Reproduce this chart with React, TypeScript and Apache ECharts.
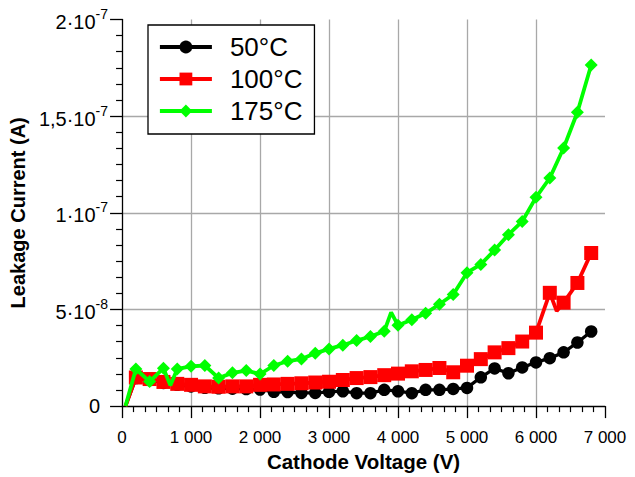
import React, { useEffect, useRef } from 'react';
import * as echarts from 'echarts';

// Cathode voltage (V) of each measurement
const volts50 = [50, 200, 400, 600, 800, 1000, 1200, 1400, 1600, 1800, 2000, 2200, 2400, 2600, 2800, 3000, 3200, 3400, 3600, 3800, 4000, 4200, 4400, 4600, 4800, 5000, 5200, 5400, 5600, 5800, 6000, 6200, 6400, 6600, 6800];
const volts100 = [50, 200, 400, 600, 800, 1000, 1200, 1400, 1600, 1800, 2000, 2200, 2400, 2600, 2800, 3000, 3200, 3400, 3600, 3800, 4000, 4200, 4400, 4600, 4800, 5000, 5200, 5400, 5600, 5800, 6000, 6200, 6300, 6400, 6600, 6800];
const volts175 = [50, 200, 400, 600, 700, 800, 1000, 1200, 1400, 1600, 1800, 2000, 2200, 2400, 2600, 2800, 3000, 3200, 3400, 3600, 3800, 3900, 4000, 4200, 4400, 4600, 4800, 5000, 5200, 5400, 5600, 5800, 6000, 6200, 6400, 6600, 6800];

// Leakage current in units of 1e-8 A
const current50 = [0, 1.45, 1.35, 1.2, 1.1, 1.02, 0.95, 0.92, 0.9, 0.88, 0.86, 0.74, 0.73, 0.68, 0.68, 0.74, 0.77, 0.67, 0.67, 0.84, 0.77, 0.67, 0.84, 0.84, 0.89, 0.94, 1.49, 1.95, 1.7, 2.0, 2.26, 2.48, 2.78, 3.29, 3.86];
const current100 = [0, 1.48, 1.4, 1.25, 1.15, 1.1, 1.02, 1.0, 1.02, 1.02, 1.1, 1.12, 1.15, 1.18, 1.22, 1.26, 1.35, 1.45, 1.5, 1.6, 1.68, 1.8, 1.87, 1.97, 1.75, 2.09, 2.43, 2.78, 3.0, 3.34, 3.8, 5.86, 4.92, 5.35, 6.37, 7.92];
const current175 = [0, 1.92, 1.27, 1.96, 1.07, 1.92, 2.06, 2.1, 1.45, 1.72, 1.84, 1.66, 2.1, 2.32, 2.44, 2.73, 2.96, 3.15, 3.39, 3.6, 3.87, 4.85, 4.18, 4.47, 4.8, 5.27, 5.77, 6.9, 7.33, 8.07, 8.87, 9.55, 10.8, 11.8, 13.35, 15.2, 17.65];

// Voltages drawn without a marker
const unmarked50 = [50];
const unmarked100 = [50, 6300];
const unmarked175 = [50, 700, 3900];

const seriesNames = ['50°C', '100°C', '175°C'];
const seriesColors = ['#000000', '#ff0000', '#00ff00'];
const seriesSymbols = ['circle', 'rect', 'diamond'];

// y tick labels: [mantissa, exponent]
const yTickLabels: [string, string][] = [['0', ''], ['5', '-8'], ['1', '-7'], ['1,5', '-7'], ['2', '-7']];
const xTickLabels = ['0', '1 000', '2 000', '3 000', '4 000', '5 000', '6 000', '7 000'];

const FONT = 'Liberation Sans';

function build(volts: number[], cur: number[], unmarked: number[]) {
  return volts.map((v, i) => {
    const item: any = { value: [v, cur[i] * 1e-8] };
    if (unmarked.includes(v)) item.symbol = 'none';
    return item;
  });
}

export default function App() {
  const ref = useRef<HTMLDivElement>(null);
  useEffect(() => {
    if (!ref.current) return;
    const chart = echarts.init(ref.current, undefined, { renderer: 'svg' });
    const datasets = [
      build(volts50, current50, unmarked50),
      build(volts100, current100, unmarked100),
      build(volts175, current175, unmarked175),
    ];
    const sizes = [12.5, 14, 13];
    const widths = [3.3, 3.8, 3.8];
    chart.setOption({
      animation: false,
      backgroundColor: '#ffffff',
      grid: { left: 121, top: 19.5, width: 484, height: 389.5, containLabel: false },
      legend: {
        orient: 'vertical',
        left: 148,
        top: 25,
        padding: [9, 12, 10, 10],
        itemGap: 6,
        itemWidth: 52,
        itemHeight: 16,
        borderColor: '#000',
        borderWidth: 1.3,
        borderRadius: 0,
        backgroundColor: '#ffffff',
        lineStyle: { width: 3.8 },
        textStyle: { fontSize: 26, fontFamily: FONT, color: '#000', padding: [0, 0, 0, 13], lineHeight: 26 },
        data: seriesNames,
      },
      xAxis: {
        type: 'value',
        min: 0,
        max: 7000,
        interval: 1000,
        name: 'Cathode Voltage (V)',
        nameLocation: 'middle',
        nameGap: 41,
        nameTextStyle: { fontSize: 20.5, fontWeight: 'bold', fontFamily: FONT, color: '#000' },
        axisLine: { show: true, onZero: false, lineStyle: { color: '#000', width: 1.3 } },
        axisTick: { show: true, length: 12, lineStyle: { color: '#000', width: 1.3 } },
        minorTick: { show: true, splitNumber: 6, length: 6, lineStyle: { color: '#000', width: 1.2 } },
        axisLabel: {
          margin: 23,
          fontSize: 17,
          fontFamily: FONT,
          color: '#000',
          showMaxLabel: true,
          showMinLabel: true,
          formatter: (v: number) => xTickLabels[Math.round(v / 1000)] ?? '',
        },
        splitLine: { show: true, showMinLine: false, showMaxLine: false, lineStyle: { color: '#a8a8a8', width: 1.3 } },
      },
      yAxis: {
        type: 'value',
        min: 0,
        max: 2e-7,
        interval: 5e-8,
        name: 'Leakage Current (A)',
        nameLocation: 'middle',
        nameGap: 86,
        nameTextStyle: { fontSize: 20, fontWeight: 'bold', fontFamily: FONT, color: '#000' },
        axisLine: { show: true, onZero: false, lineStyle: { color: '#000', width: 1.3 } },
        axisTick: { show: true, length: 12, lineStyle: { color: '#000', width: 1.3 } },
        minorTick: { show: true, splitNumber: 6, length: 6, lineStyle: { color: '#000', width: 1.2 } },
        axisLabel: {
          margin: 14,
          color: '#000',
          fontFamily: FONT,
          formatter: (v: number) => {
            const lab = yTickLabels[Math.round(v / 5e-8)];
            if (!lab) return '';
            if (!lab[1]) return `{z|${lab[0]}}`;
            return `{m|${lab[0]}·10}{e|${lab[1]}}`;
          },
          rich: {
            z: { fontSize: 20, fontFamily: FONT, color: '#000', padding: [0, 8, 0, 0] },
            m: { fontSize: 20, fontFamily: FONT, color: '#000', lineHeight: 25, verticalAlign: 'bottom' },
            e: { fontSize: 14, fontFamily: FONT, color: '#000', lineHeight: 25, verticalAlign: 'top' },
          },
        },
        splitLine: { show: true, showMinLine: false, showMaxLine: false, lineStyle: { color: '#a8a8a8', width: 1.3 } },
      },
      series: seriesNames.map((name, i) => ({
        name,
        type: 'line',
        data: datasets[i],
        symbol: seriesSymbols[i],
        symbolSize: sizes[i],
        showSymbol: true,
        showAllSymbol: true,
        color: seriesColors[i],
        lineStyle: { color: seriesColors[i], width: widths[i] },
        itemStyle: { color: seriesColors[i] },
        clip: true,
        z: 2 + i,
      })),
    });
    return () => chart.dispose();
  }, []);
  return <div ref={ref} style={{ position: 'absolute', left: 0, top: 0, width: 635, height: 477, background: '#fff' }} />;
}
